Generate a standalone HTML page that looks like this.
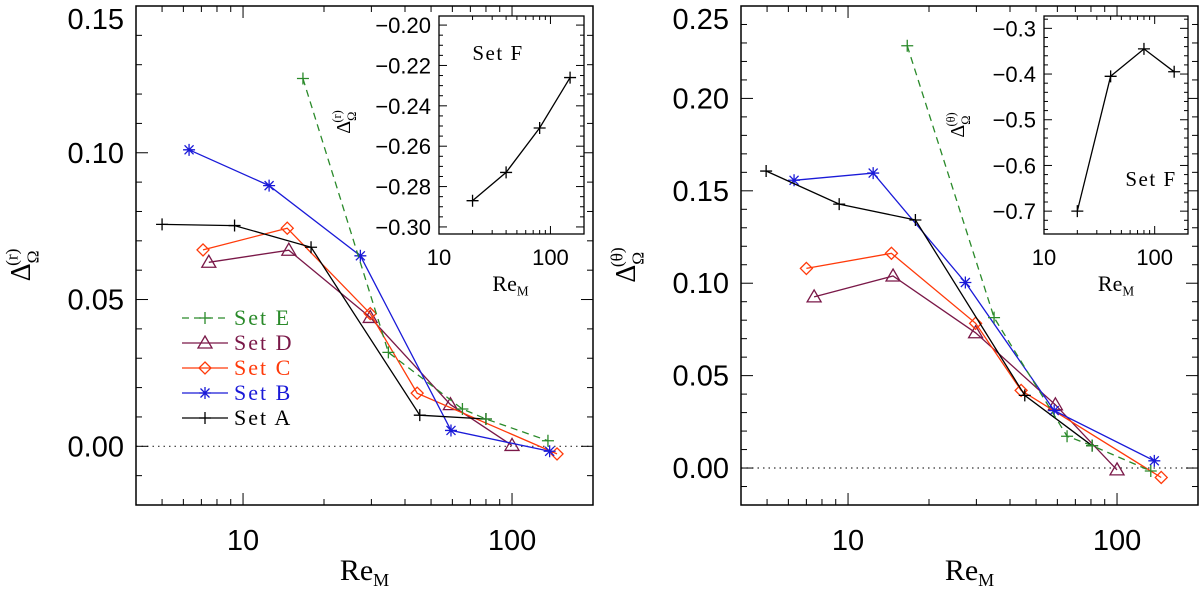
<!DOCTYPE html>
<html><head><meta charset="utf-8">
<style>
html,body{margin:0;padding:0;background:#fff;}
svg{display:block;}
text{font-family:"Liberation Sans",sans-serif;}
.ser{font-family:"Liberation Serif",serif;}
</style></head>
<body>
<svg id="c" width="1200" height="595" viewBox="0 0 1200 595"></svg>
<script>
// ---- data (shared) ----
const seriesNames = ["Set A","Set B","Set C","Set D","Set E"];
// left panel (r)
const rA_x=[5.0,9.3,17.9,45.4,80], rA_y=[0.0756,0.0752,0.0678,0.0106,0.0093];
const rB_x=[6.3,12.5,27.3,59.3,138], rB_y=[0.101,0.0888,0.0649,0.0054,-0.0017];
const rC_x=[7.1,14.6,29.7,44.4,147], rC_y=[0.0669,0.0743,0.0452,0.0181,-0.0026];
const rD_x=[7.46,14.8,29.7,59,100], rD_y=[0.0627,0.0668,0.0439,0.0142,0.0003];
const rE_x=[16.7,34.7,65.4,80,136], rE_y=[0.1253,0.032,0.0127,0.0093,0.0019];
// right panel (theta)
const tA_x=[4.96,9.27,17.8,45.4,80.8], tA_y=[0.1607,0.1428,0.1342,0.0393,0.0121];
const tB_x=[6.3,12.4,27.3,58.4,137.6], tB_y=[0.1557,0.1596,0.1004,0.0311,0.0039];
const tC_x=[7.0,14.5,29.8,44.0,146], tC_y=[0.108,0.1162,0.0783,0.042,-0.0051];
const tD_x=[7.48,14.7,29.8,59,100], tD_y=[0.0926,0.1039,0.0732,0.0342,-0.001];
const tE_x=[16.6,34.9,65.2,80.8,133.5], tE_y=[0.2285,0.0814,0.0172,0.0121,-0.0016];
// insets (Set F)
const fr_x=[20,40,80,150], fr_y=[-0.287,-0.273,-0.251,-0.226];
const ft_x=[20,40,80,150], ft_y=[-0.70,-0.405,-0.345,-0.395];
// tick labels
const rTicks=["0.00","0.05","0.10","0.15"];
const tTicks=["0.00","0.05","0.10","0.15","0.20","0.25"];
const frTicks=["-0.30","-0.28","-0.26","-0.24","-0.22","-0.20"];
const ftTicks=["-0.7","-0.6","-0.5","-0.4","-0.3"];
const xTicks=["10","100"];

const svg=document.getElementById('c');
const NS="http://www.w3.org/2000/svg";
function mk(tag,attrs,parent){const e=document.createElementNS(NS,tag);for(const k in attrs)e.setAttribute(k,attrs[k]);(parent||svg).appendChild(e);return e;}
const colors={A:"#000",B:"#1a1ad8",C:"#ff3a0a",D:"#7a1848",E:"#2a8a2a"};

function axes(L,R,T,B,x0,x1,y0,y1){
  const sx=v=>L+(Math.log10(v)-Math.log10(x0))/(Math.log10(x1)-Math.log10(x0))*(R-L);
  const sy=v=>B-(v-y0)/(y1-y0)*(B-T);
  return {sx,sy};
}
function frame(g,L,R,T,B,sw){mk('rect',{x:L,y:T,width:R-L,height:B-T,fill:'none',stroke:'#000','stroke-width':sw},g);}
function logTicks(g,sx,T,B,x0,x1,maj,mn){
  for(let d=1;d<=1000;d*=10)for(let m=1;m<10;m++){const v=d*m;if(v<x0-1e-9||v>x1+1e-9)continue;const x=sx(v);const len=(m===1)?maj:mn;
    mk('line',{x1:x,x2:x,y1:B,y2:B-len,stroke:'#000','stroke-width':1},g);
    mk('line',{x1:x,x2:x,y1:T,y2:T+len,stroke:'#000','stroke-width':1},g);}
}
function linTicks(g,sy,L,R,y0,y1,step,majEvery,maj,mn){
  const start=Math.ceil(y0/step-1e-6);
  for(let i=start;i*step<=y1+1e-9;i++){const v=i*step;const y=sy(v);const len=(Math.abs(i%majEvery)===0)?maj:mn;
    mk('line',{x1:L,x2:L+len,y1:y,y2:y,stroke:'#000','stroke-width':1},g);
    mk('line',{x1:R,x2:R-len,y1:y,y2:y,stroke:'#000','stroke-width':1},g);}
}
function marker(g,type,x,y,col){
  const s=6;
  if(type==='plus'){mk('path',{d:`M${x-s} ${y}H${x+s}M${x} ${y-s}V${y+s}`,stroke:col,'stroke-width':1.3,fill:'none'},g);}
  else if(type==='star'){mk('path',{d:`M${x-s} ${y}H${x+s}M${x} ${y-s}V${y+s}M${x-4.5} ${y-4.5}L${x+4.5} ${y+4.5}M${x-4.5} ${y+4.5}L${x+4.5} ${y-4.5}`,stroke:col,'stroke-width':1.3,fill:'none'},g);}
  else if(type==='diamond'){mk('path',{d:`M${x} ${y-6}L${x+6} ${y}L${x} ${y+6}L${x-6} ${y}Z`,stroke:col,'stroke-width':1.3,fill:'none'},g);}
  else if(type==='tri'){mk('path',{d:`M${x} ${y-7}L${x+7} ${y+5}L${x-7} ${y+5}Z`,stroke:col,'stroke-width':1.3,fill:'none'},g);}
}
function series(g,name,xs,ys,sx,sy,type,col,dash){
  const s=mk('g',{},g);
  
  
  const pts=xs.map((v,i)=>sx(v).toFixed(1)+','+sy(ys[i]).toFixed(1)).join(' ');
  const a={points:pts,fill:'none',stroke:col,'stroke-width':1.3};
  if(dash)a['stroke-dasharray']='7,5';
  mk('polyline',a,s);
  xs.forEach((v,i)=>marker(s,type,sx(v),sy(ys[i]),col));
}
function text(g,x,y,str,size,anchor,cls,fill){const t=mk('text',{x:x,y:y,'font-size':size,'text-anchor':anchor||'middle',fill:fill||'#000'},g);if(cls)t.setAttribute('class',cls);t.textContent=str;return t;}
function ytitle(g,x,y,sup,size){
  const t=mk('text',{transform:`translate(${x},${y}) rotate(-90)`,'font-size':size,'text-anchor':'middle'},g);
  t.setAttribute('class','ser');
  t.innerHTML=`Δ<tspan font-size="${size*0.62}" dy="${size*0.3}">Ω</tspan><tspan font-size="${size*0.62}" dy="${-size*0.75}" dx="${-size*0.55}">(${sup})</tspan>`;
}
function reM(g,x,y,size){
  const t=mk('text',{x:x,y:y,'font-size':size,'text-anchor':'middle'},g);t.setAttribute('class','ser');
  t.innerHTML=`Re<tspan font-size="${size*0.6}" dy="${size*0.2}">M</tspan>`;
}

function panel(id,L,R,T,B,y1,yTickLabels,yStep,data,sup,inset){
  const g=mk('g',{});
  
  
  const {sx,sy}=axes(L,R,T,B,4,200,-0.02,y1);
  mk('line',{x1:L,x2:R,y1:sy(0),y2:sy(0),stroke:'#333','stroke-width':1.2,'stroke-dasharray':'1.5,4'},g);
  frame(g,L,R,T,B,1.5);
  logTicks(g,sx,T,B,4,200,12,6);
  linTicks(g,sy,L,R,-0.02,y1,0.01,5,12,6);
  yTickLabels.forEach((lab,i)=>{const v=i*yStep;const cy=Math.max(sy(v),19);const tl=text(g,L-12,cy+10,lab,29,'end');});
  xTicks.forEach(lab=>{text(g,sx(+lab),550,lab,29,'middle');});
  reM(g,(L+R)/2,580,30);
  ytitle(g,L-106,265,sup,28);
  const types={A:'plus',B:'star',C:'diamond',D:'tri',E:'plus'};
  ['D','C','B','A','E'].forEach(k=>series(g,'series-set-'+k.toLowerCase(),data[k][0],data[k][1],sx,sy,types[k],colors[k],k==='E'));
  const ig=mk('g',{},g);
  
  
  const I=inset;
  mk('rect',{x:I.L,y:I.T,width:I.R-I.L,height:I.B-I.T,fill:'#fff',stroke:'none'},ig);
  const ia=axes(I.L,I.R,I.T,I.B,10,200,I.y0,I.y1);
  frame(ig,I.L,I.R,I.T,I.B,1.3);
  logTicks(ig,ia.sx,I.T,I.B,10,200,8,4);
  linTicks(ig,ia.sy,I.L,I.R,I.y0,I.y1,I.minor,I.every,8,4);
  I.labels.forEach((lab,i)=>{const v=I.first+i*I.step;text(ig,I.L-8,ia.sy(v)+8,lab.replace('-','\u2212'),22,'end');});
  xTicks.forEach(lab=>text(ig,ia.sx(+lab),265,lab,22,'middle'));
  reM(ig,(I.L+I.R)/2+(I.rex||0),291,22);
  ytitle(ig,I.tx,I.ty,sup,20);
  const st=text(ig,I.fx,I.fy,'Set F',21,'middle','ser');st.setAttribute('letter-spacing','1.5');
  series(ig,'series-set-f',I.xs,I.ys,ia.sx,ia.sy,'plus','#000',false);
  return g;
}

panel('left-panel',136,593,6,505,0.15,rTicks,0.05,
  {A:[rA_x,rA_y],B:[rB_x,rB_y],C:[rC_x,rC_y],D:[rD_x,rD_y],E:[rE_x,rE_y]},'r',
  {L:439,R:584,T:16,B:234,y0:-0.3035,y1:-0.1955,minor:0.005,every:4,first:-0.30,step:0.02,labels:frTicks,
   tx:350,ty:122,fx:498,fy:60,xs:fr_x,ys:fr_y,rex:-1});
panel('right-panel',741,1198,6,505,0.25,tTicks,0.05,
  {A:[tA_x,tA_y],B:[tB_x,tB_y],C:[tC_x,tC_y],D:[tD_x,tD_y],E:[tE_x,tE_y]},'θ',
  {L:1044,R:1188,T:16,B:234,y0:-0.75,y1:-0.273,minor:0.02,every:5,first:-0.7,step:0.1,labels:ftTicks,
   tx:964,ty:125,fx:1151,fy:186,xs:ft_x,ys:ft_y,rex:0});

const lg=mk('g',{});


const legKeys=['E','D','C','B','A'];
const legTypes={A:'plus',B:'star',C:'diamond',D:'tri',E:'plus'};
legKeys.forEach((k,i)=>{
  const y=318+i*25;
  const e=mk('g',{},lg);
  
  
  const a={x1:182,x2:228,y1:y,y2:y,stroke:colors[k],'stroke-width':1.3};
  if(k==='E')a['stroke-dasharray']='7,5';
  mk('line',a,e);
  marker(e,legTypes[k],205,y,colors[k]);
  const t=text(e,234,y+7,'Set '+k,22,'start','ser',colors[k]);t.setAttribute('letter-spacing','2');
});
</script>
</body></html>
